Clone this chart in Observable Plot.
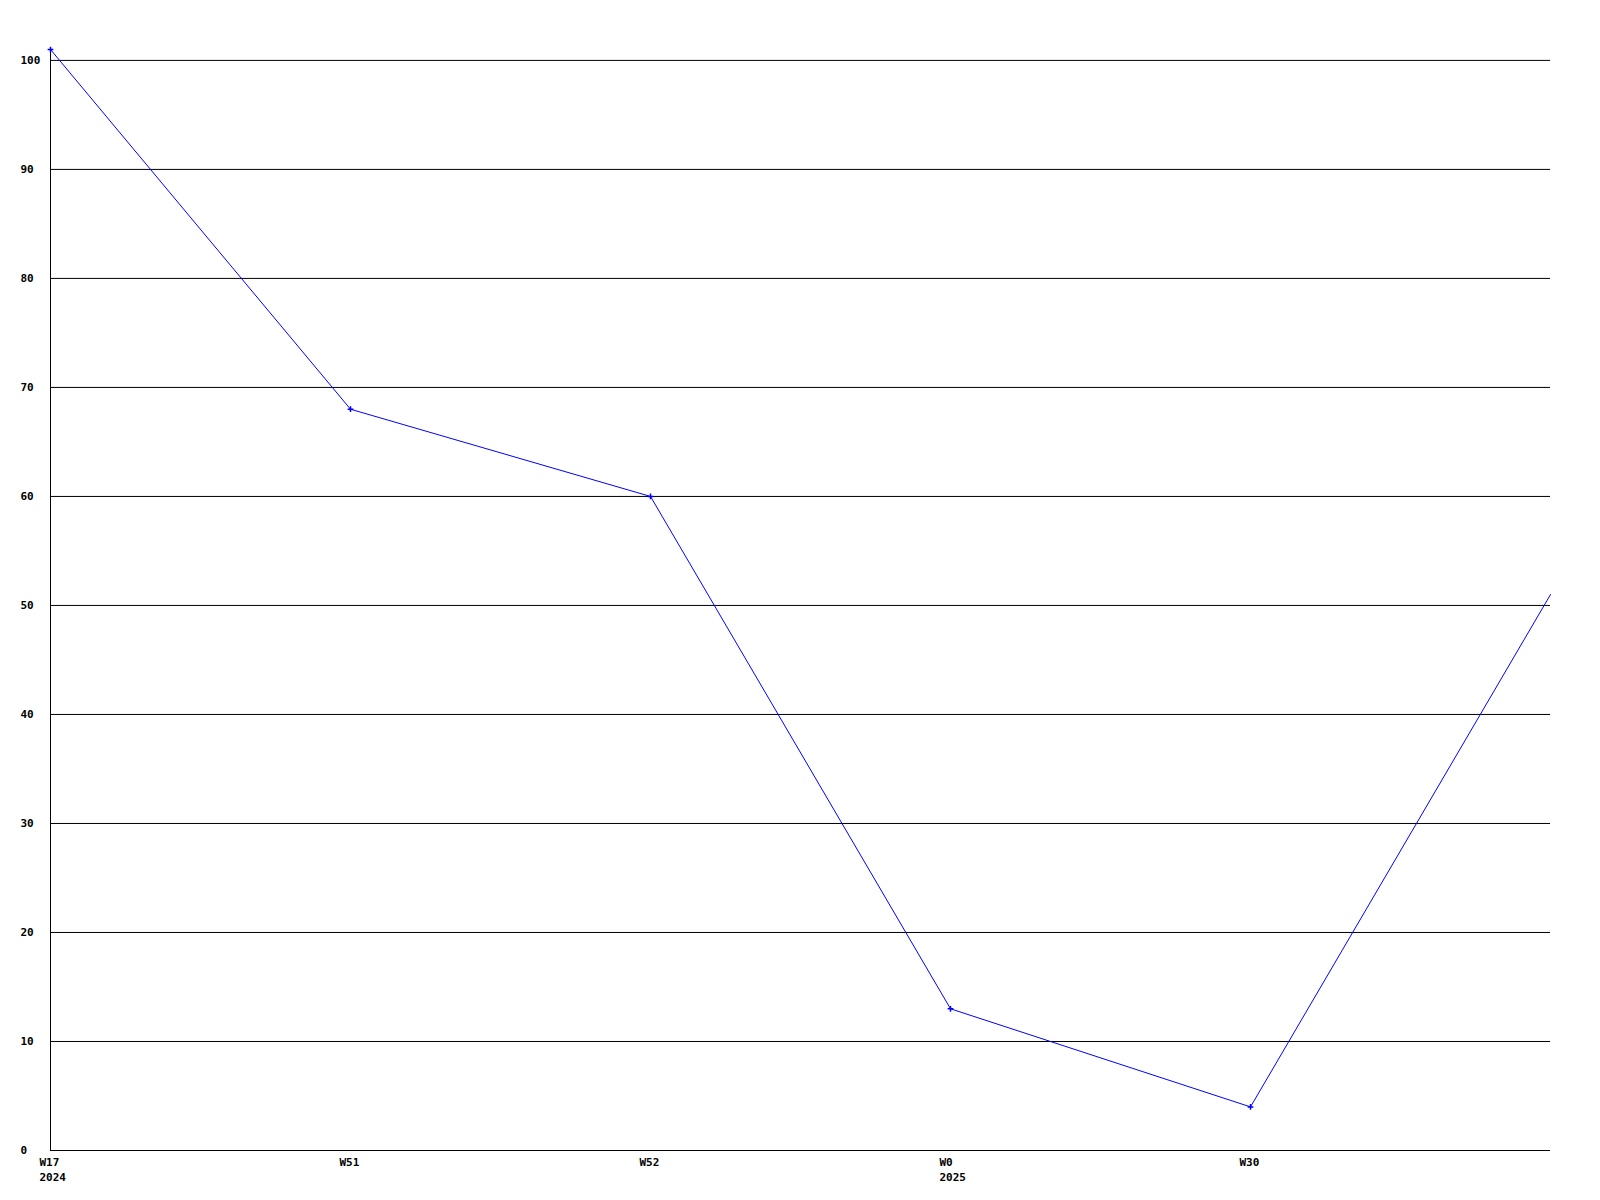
<!DOCTYPE html>
<html>
<head>
<meta charset="utf-8">
<script src="https://cdn.jsdelivr.net/npm/d3@7"></script>
<script src="https://cdn.jsdelivr.net/npm/@observablehq/plot@0.6"></script>
<style>
  html, body { margin: 0; padding: 0; background: #fff; }
  svg { display: block; }
</style>
</head>
<body>
<div id="chart"></div>
<script>
const categories = ["W17\n2024", "W51", "W52", "W0\n2025", "W30", " "];
const values = [101, 68, 60, 13, 4, 51];
const markerShown = [true, true, true, true, true, false];
const yTicks = [0, 10, 20, 30, 40, 50, 60, 70, 80, 90, 100];

const data = categories.map((c, i) => ({cat: c, value: values[i], marker: markerShown[i]}));

const chart = Plot.plot({
  width: 1600,
  height: 1200,
  marginTop: 49,
  marginBottom: 50,
  marginLeft: 50,
  marginRight: 50,
  style: {background: "#fff", fontFamily: "'DejaVu Sans Mono', monospace", fontSize: "11px", fontWeight: "bold", color: "#000"},
  x: {type: "point", domain: categories, padding: 0, label: null},
  y: {domain: [0, 101], label: null},
  marks: [
    Plot.ruleY(yTicks, {stroke: "#000", strokeWidth: 1}),
    Plot.ruleX([categories[0]], {stroke: "#000", strokeWidth: 1}),
    Plot.axisY({ticks: yTicks, tickSize: 0, tickPadding: 30, textAnchor: "start", tickFormat: d => String(d), fill: "#000", label: null}),
    Plot.axisX({ticks: categories.slice(0, 5), tickSize: 0, tickPadding: 5, textAnchor: "start", dx: -11, lineHeight: 1.36, fill: "#000", label: null}),
    Plot.line(data, {x: "cat", y: "value", stroke: "#0000ff", strokeWidth: 1}),
    Plot.dot(data.filter(d => d.marker), {x: "cat", y: "value", symbol: "plus", r: 2, stroke: "#0000ff", strokeWidth: 1.5})
  ]
});
document.getElementById("chart").appendChild(chart);
</script>
</body>
</html>
